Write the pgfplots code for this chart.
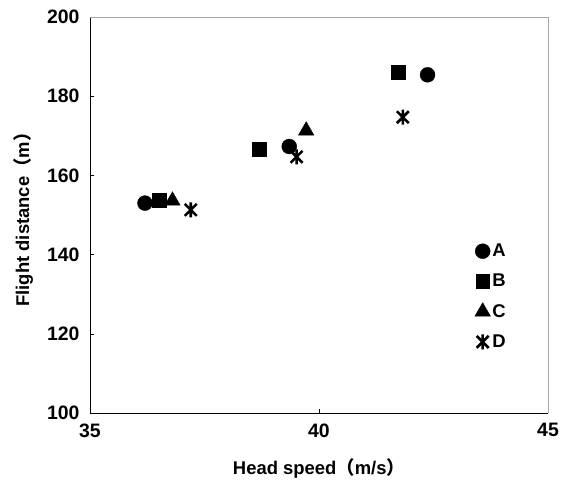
\documentclass[border=0pt]{standalone}
\usepackage{fontspec}
\setmainfont{Liberation Sans}
\newfontfamily\cjk{Noto Sans CJK JP}
\usepackage{pgfplots}
\pgfplotsset{compat=1.18}
\pgfdeclareplotmark{xstar}{%
  \pgfpathmoveto{\pgfqpoint{0pt}{\pgfplotmarksize}}%
  \pgfpathlineto{\pgfqpoint{0pt}{-\pgfplotmarksize}}%
  \pgfpathmoveto{\pgfqpoint{-0.8\pgfplotmarksize}{-0.8\pgfplotmarksize}}%
  \pgfpathlineto{\pgfqpoint{0.8\pgfplotmarksize}{0.8\pgfplotmarksize}}%
  \pgfpathmoveto{\pgfqpoint{-0.8\pgfplotmarksize}{0.8\pgfplotmarksize}}%
  \pgfpathlineto{\pgfqpoint{0.8\pgfplotmarksize}{-0.8\pgfplotmarksize}}%
  \pgfusepathqstroke}
\begin{document}
\begin{tikzpicture}
\begin{axis}[
  scale only axis, width=458bp, height=396bp,
  xmin=35, xmax=45, ymin=100, ymax=200,
  xtick={35,40,45}, ytick={100,120,...,200},
  axis x line*=bottom, axis y line*=left,
  axis line style={-, black, line width=0.9pt},
  tick align=inside, major tick length=4bp,
  tick style={black, line width=0.6pt},
  /pgf/number format/assume math mode=true,
  ticklabel style={font=\fontsize{19.5}{22}\selectfont\bfseries},
  xticklabel style={yshift=-7bp},
  yticklabel style={xshift=-7bp},
  xlabel={Head speed{\cjk（}m/s{\cjk）}},
  ylabel={Flight distance{\cjk（}m{\cjk）}},
  label style={font=\fontsize{18.5}{22}\selectfont\bfseries},
  xlabel style={at={(axis description cs:0.5,-0.139)}, anchor=center},
  ylabel style={at={(axis description cs:-0.146,0.5)}, anchor=center},
  legend style={draw=none, fill=none, at={(axis description cs:0.84,0.432)}, anchor=north west,
    font=\fontsize{18.5}{22}\selectfont\bfseries, row sep=12bp, inner sep=0pt},
  legend cell align=left,
  legend image code/.code={\draw[#1] plot coordinates {(0.2cm,0cm)};},
  clip=false,
]
\addplot[only marks, mark=*, mark size=7.5pt, black, fill=black] coordinates {
  (36.20,153.0) (39.35,167.3) (42.37,185.4)};
\addlegendentry{A}
\addplot[only marks, mark=square*, mark size=7pt, black, fill=black] coordinates {
  (36.51,153.8) (38.70,166.6) (41.72,186.0)};
\addlegendentry{B}
\addplot[only marks, mark=triangle*, mark size=9pt, black, fill=black] coordinates {
  (36.80,153.6) (39.72,171.3)};
\addlegendentry{C}
\addplot[only marks, mark=xstar, mark size=7.5pt, black, line width=2.6pt] coordinates {
  (37.20,151.3) (39.51,164.7) (41.83,174.7)};
\addlegendentry{D}
\draw[gray!70, line width=0.6pt] (rel axis cs:0,1) -- (rel axis cs:1,1) -- (rel axis cs:1,0);
\end{axis}
\pgfresetboundingbox
\path[use as bounding box] ([xshift=-90bp,yshift=-73bp]current axis.south west) rectangle ([xshift=16bp,yshift=17bp]current axis.north east);
\end{tikzpicture}
\end{document}
